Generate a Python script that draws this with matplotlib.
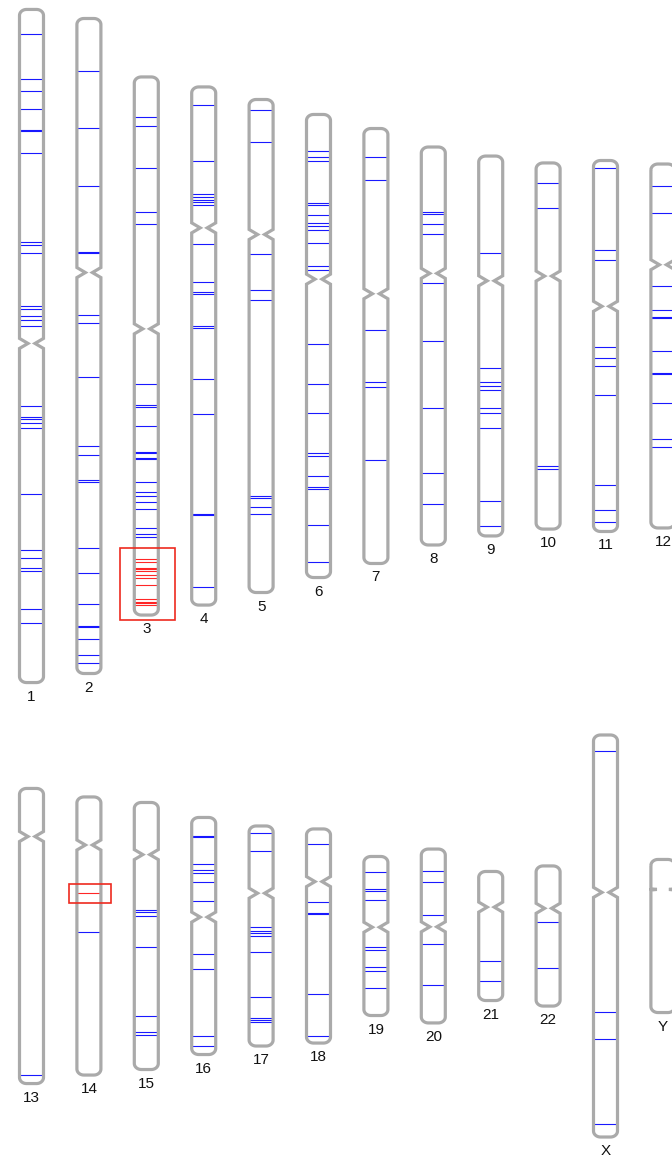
import numpy as np
import matplotlib
matplotlib.use("Agg")
import matplotlib.pyplot as plt
from matplotlib.path import Path
from matplotlib.patches import PathPatch, Rectangle

# chromosome names, lengths (Mb) and centromere positions (Mb)
chrom_names = ['1', '2', '3', '4', '5', '6', '7', '8', '9', '10', '11', '12',
               '13', '14', '15', '16', '17', '18', '19', '20', '21', '22', 'X', 'Y']
chrom_len = [249.3, 242.6, 199.3, 191.9, 182.6, 171.5, 161.1, 147.4, 140.7, 135.6, 137.4, 134.8,
             109.3, 103.0, 98.9, 87.8, 81.5, 79.3, 58.9, 64.4, 47.8, 51.9, 148.9, 56.7]
centro = [123.7, 94.1, 93.3, 52.2, 50.0, 61.0, 61.2, 46.8, 46.2, 41.9, 54.0, 37.3,
          17.8, 17.8, 19.3, 36.9, 24.9, 19.5, 26.2, 28.8, 13.2, 15.7, 58.3, 11.1]

# annotation positions (Mb from p-terminal)
blue_marks = {
    '1': [9.0, 25.9, 30.2, 36.8, 44.6, 45.0, 53.0, 86.2, 87.4, 90.3, 109.7, 110.9, 113.4, 115.2, 117.4,
          147.0, 151.1, 151.7, 153.0, 155.2, 179.4, 200.3, 203.0, 206.7, 208.0, 221.9, 227.1],
    '2': [19.6, 40.5, 61.9, 86.6, 87.0, 110.0, 112.9, 132.6, 158.4, 161.7, 171.0, 171.6, 196.0,
          205.2, 216.8, 225.1, 225.5, 229.9, 235.6, 238.6],
    '3': [14.8, 18.1, 33.8, 49.9, 54.4, 113.7, 121.5, 122.3, 129.1, 138.9, 139.3, 141.2, 141.6,
          150.1, 153.8, 155.3, 157.5, 159.9, 167.0, 169.3, 170.4],
    '4': [6.8, 27.5, 39.8, 40.7, 41.9, 42.8, 43.7, 58.1, 72.2, 76.0, 76.6, 88.4, 89.4, 108.3,
          121.2, 158.3, 158.7, 185.1],
    '5': [3.8, 15.8, 57.3, 70.5, 74.4, 146.9, 147.5, 151.1, 153.6],
    '6': [13.4, 15.6, 17.4, 32.8, 33.6, 37.2, 40.2, 41.2, 42.7, 47.7, 56.1, 57.5, 85.1, 99.9,
          110.6, 125.2, 126.4, 133.8, 138.1, 138.6, 151.9, 165.9],
    '7': [10.4, 18.9, 74.8, 93.7, 95.7, 122.6],
    '8': [24.0, 24.8, 28.4, 32.3, 50.5, 71.7, 96.8, 120.6, 132.2],
    '9': [36.0, 78.5, 83.8, 85.2, 86.7, 93.4, 95.3, 100.7, 127.7, 137.1],
    '10': [7.5, 16.6, 112.2, 113.4],
    '11': [2.7, 33.3, 36.9, 69.1, 73.1, 76.0, 87.0, 120.1, 129.5, 133.7],
    '12': [8.3, 18.0, 45.2, 53.9, 56.6, 57.0, 69.4, 77.3, 77.7, 88.5, 101.9, 104.8],
    '13': [106.3],
    '14': [49.9],
    '15': [40.0, 40.6, 41.9, 53.6, 79.1, 84.9, 86.2],
    '16': [6.9, 7.2, 17.1, 19.6, 20.5, 24.0, 31.1, 50.7, 56.2, 80.9, 84.8],
    '17': [2.7, 9.4, 37.3, 38.9, 39.7, 40.9, 46.7, 63.4, 71.1, 71.9, 72.5],
    '18': [5.4, 27.1, 31.2, 31.6, 61.2, 76.6],
    '19': [5.7, 12.0, 12.6, 16.3, 33.6, 34.7, 40.9, 42.3, 48.6],
    '20': [8.1, 12.3, 24.6, 35.3, 50.5],
    '21': [33.1, 40.6],
    '22': [20.6, 37.7],
    'X': [5.9, 102.5, 112.5, 144.2],
    'Y': [],
}
red_marks = {
    '3': [178.4, 179.6, 181.7, 182.2, 182.8, 184.6, 185.6, 188.3, 193.4, 194.3, 195.0, 195.7],
    '14': [35.7],
}
# highlighted regions: chromosome, start Mb, end Mb
highlight_chrom = ['3', '14']
highlight_start = [174.6, 32.3]
highlight_end = [201.1, 39.4]
highlight_halfw = [27.3, 21.3]

# layout (pixels)
W, H = 672, 1157
px_per_mb = 2.7
col_x0, col_dx = 31.5, 57.4
row_mid = [346.0, 936.0]
half_w = 12.0


def chrom_outline(cx, top, bot, cen, hw=12.0, r=7.0, ry=6.0, ph=5.0, pw=3.5):
    t = np.linspace(0, np.pi / 2, 10)
    pts = []
    for a in t:
        pts.append((cx - hw + r - r * np.cos(a), top + ry - ry * np.sin(a)))
    for a in t[::-1]:
        pts.append((cx + hw - r + r * np.cos(a), top + ry - ry * np.sin(a)))
    pts += [(cx + hw, cen - ph), (cx + pw, cen), (cx + hw, cen + ph)]
    for a in t:
        pts.append((cx + hw - r + r * np.cos(a), bot - ry + ry * np.sin(a)))
    for a in t[::-1]:
        pts.append((cx - hw + r - r * np.cos(a), bot - ry + ry * np.sin(a)))
    pts += [(cx - hw, cen + ph), (cx - pw, cen), (cx - hw, cen - ph)]
    pts.append(pts[0])
    codes = [Path.MOVETO] + [Path.LINETO] * (len(pts) - 2) + [Path.CLOSEPOLY]
    return Path(pts, codes)


fig = plt.figure(figsize=(W / 100, H / 100), dpi=100)
ax = fig.add_axes([0, 0, 1, 1])
ax.set_xlim(0, W)
ax.set_ylim(H, 0)
ax.axis('off')

chrom_geom = {}
for i, name in enumerate(chrom_names):
    row, col = divmod(i, 12)
    cx = col_x0 + col * col_dx
    top = row_mid[row] - chrom_len[i] * px_per_mb / 2
    bot = top + chrom_len[i] * px_per_mb
    cen = top + centro[i] * px_per_mb
    chrom_geom[name] = (cx, top)

    ph = 0.6 if name == 'Y' else 5.0
    pw = 6.0 if name == 'Y' else 3.5
    path = chrom_outline(cx, top, bot, cen, hw=half_w, ph=ph, pw=pw)
    ax.add_patch(PathPatch(path, facecolor='white', edgecolor='none', zorder=1))

    ys = [top + m * px_per_mb for m in blue_marks[name]]
    if ys:
        ax.hlines(ys, cx - half_w, cx + half_w, colors='#0000ff', lw=0.8, alpha=0.9, zorder=2)
    ys = [top + m * px_per_mb for m in red_marks.get(name, [])]
    if ys:
        ax.hlines(ys, cx - half_w, cx + half_w, colors='#ff0000', lw=0.8, alpha=0.85, zorder=2)

    ax.add_patch(PathPatch(path, facecolor='none', edgecolor='#aaaaaa', lw=2.3, zorder=3))
    ax.text(cx, bot + 14, name, ha='center', va='center', fontsize=11,
            family='Liberation Sans', color='#111111')

for name, s, e, hw in zip(highlight_chrom, highlight_start, highlight_end, highlight_halfw):
    cx, top = chrom_geom[name]
    y0 = top + s * px_per_mb
    y1 = top + e * px_per_mb
    ax.add_patch(Rectangle((cx + 1 - hw, y0), 2 * hw, y1 - y0, fill=False,
                           edgecolor='#ee2a1f', lw=1.2, zorder=4))

fig.savefig('out.png', dpi=100)
